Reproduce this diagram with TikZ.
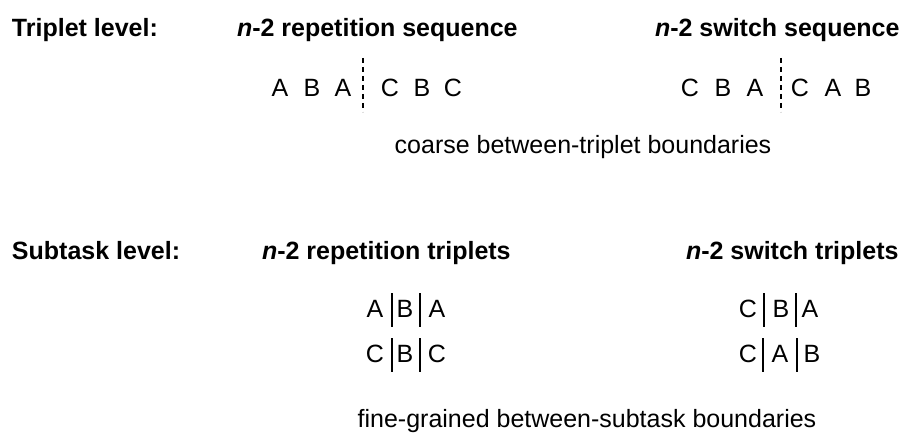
\documentclass[tikz,border=0pt]{standalone}
\usepackage{fontspec}
\setmainfont{Liberation Sans}
\begin{document}
\begin{tikzpicture}[x=1pt,y=-1pt,
  every node/.style={inner sep=0pt,outer sep=0pt,font=\fontsize{25}{30}\selectfont},
  head/.style={anchor=base west,font=\fontsize{25}{30}\selectfont\bfseries},
  letter/.style={anchor=base},
  caption/.style={anchor=base},
  bnd/.style={line width=1.6pt},
  dbnd/.style={line width=1.8pt,dash pattern=on 5pt off 4pt}]
\useasboundingbox (0,0) rectangle (904,438);
% headers
\node[head] (tl) at (12,37) {Triplet level:};
\node[head] (rs) at (237,37) {\textit{n}-2 repetition sequence};
\node[head] (ss) at (655,37) {\textit{n}-2 switch sequence};
\node[head] (sl) at (12,259) {Subtask level:};
\node[head] (rt) at (262,259) {\textit{n}-2 repetition triplets};
\node[head] (st) at (686,259) {\textit{n}-2 switch triplets};
% triplet sequences
\node[letter] (a1) at (280,97) {A};
\node[letter] (a2) at (312,97) {B};
\node[letter] (a3) at (343,97) {A};
\node[letter] (a4) at (390,97) {C};
\node[letter] (a5) at (422,97) {B};
\node[letter] (a6) at (453,97) {C};
\coordinate (da1) at (363,58);
\coordinate (da2) at (363,112);
\draw[dbnd] (da1) -- (da2);
\node[letter] (b1) at (690,97) {C};
\node[letter] (b2) at (723,97) {B};
\node[letter] (b3) at (755,97) {A};
\node[letter] (b4) at (800,97) {C};
\node[letter] (b5) at (833,97) {A};
\node[letter] (b6) at (863,97) {B};
\coordinate (db1) at (781,58);
\coordinate (db2) at (781,112);
\draw[dbnd] (db1) -- (db2);
\node[caption] (cb) at (583,154) {coarse between-triplet boundaries};
% subtask triplets
\node[letter] (p1) at (375,317) {A};
\node[letter] (p2) at (405,317) {B};
\node[letter] (p3) at (437,317) {A};
\coordinate (pa1) at (392,293); \coordinate (pa2) at (392,327);
\coordinate (pb1) at (420,293); \coordinate (pb2) at (420,327);
\draw[bnd] (pa1) -- (pa2); \draw[bnd] (pb1) -- (pb2);
\node[letter] (q1) at (375,362) {C};
\node[letter] (q2) at (405,362) {B};
\node[letter] (q3) at (437,362) {C};
\coordinate (qa1) at (392,338); \coordinate (qa2) at (392,372);
\coordinate (qb1) at (420,338); \coordinate (qb2) at (420,372);
\draw[bnd] (qa1) -- (qa2); \draw[bnd] (qb1) -- (qb2);
\node[letter] (r1) at (748,317) {C};
\node[letter] (r2) at (781,317) {B};
\node[letter] (r3) at (810,317) {A};
\coordinate (ra1) at (764,293); \coordinate (ra2) at (764,327);
\coordinate (rb1) at (796,293); \coordinate (rb2) at (796,327);
\draw[bnd] (ra1) -- (ra2); \draw[bnd] (rb1) -- (rb2);
\node[letter] (s1) at (748,362) {C};
\node[letter] (s2) at (780,362) {A};
\node[letter] (s3) at (812,362) {B};
\coordinate (sa1) at (763,338); \coordinate (sa2) at (763,372);
\coordinate (sb1) at (797,338); \coordinate (sb2) at (797,372);
\draw[bnd] (sa1) -- (sa2); \draw[bnd] (sb1) -- (sb2);
\node[caption] (fb) at (587,427) {fine-grained between-subtask boundaries};
\end{tikzpicture}
\end{document}
